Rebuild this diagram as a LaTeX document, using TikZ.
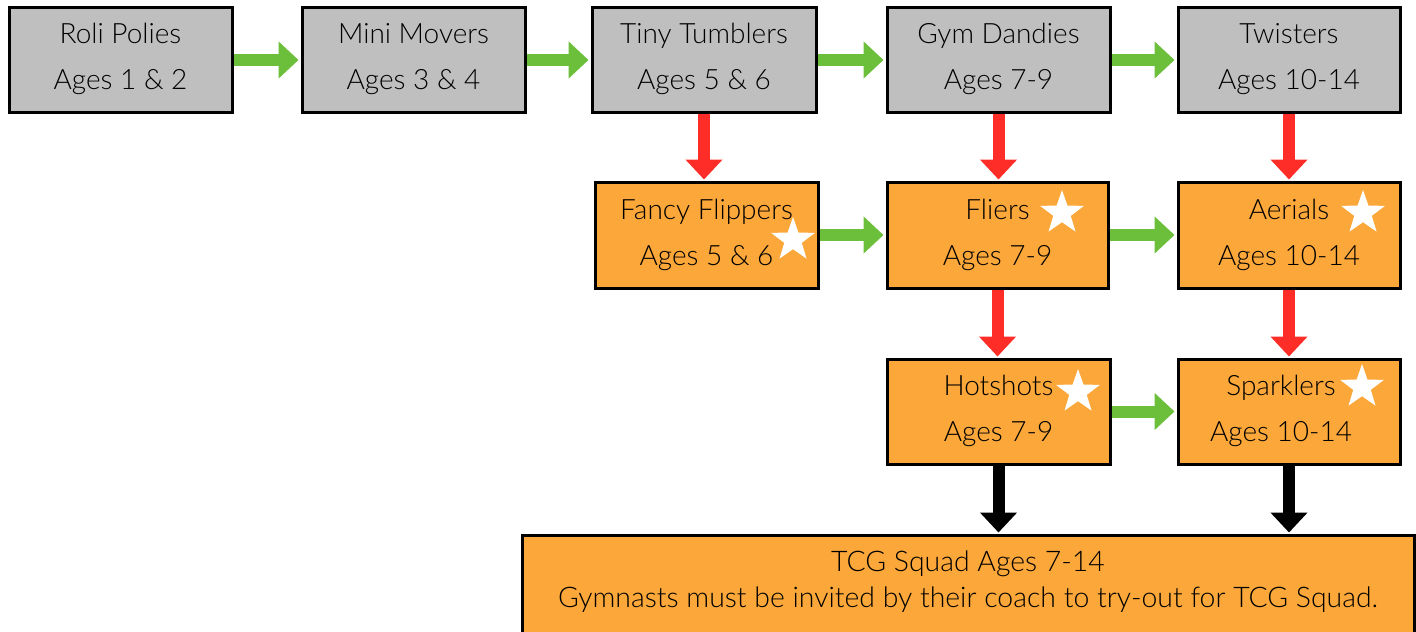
\documentclass[tikz,border=0pt]{standalone}
\usepackage{fontspec}
\setmainfont{Lato}[UprightFont={* Light}]
\usetikzlibrary{arrows.meta,fit,shapes.geometric}
\definecolor{boxgray}{HTML}{BFBFBF}
\definecolor{boxorange}{HTML}{FBA73A}
\definecolor{arrgreen}{HTML}{6CBF3A}
\definecolor{arrred}{HTML}{FF2D28}
\begin{document}
\begin{tikzpicture}[x=0.5pt,y=-0.5pt,
  box/.style={draw=black, line width=1.5pt, inner sep=0pt},
  gbox/.style={box, fill=boxgray},
  obox/.style={box, fill=boxorange},
  txt/.style={align=center, inner sep=0pt, font=\fontsize{14}{23}\selectfont},
  garrow/.style={draw=arrgreen, line width=6pt, shorten >=1pt,
    -{Triangle[width=18pt,length=10pt]}},
  rarrow/.style={draw=arrred, line width=6pt, shorten >=0.5pt,
    -{Triangle[width=18pt,length=10pt]}},
  karrow/.style={draw=black, line width=6pt, shorten >=0.5pt,
    -{Triangle[width=18pt,length=10pt]}},
  starmark/.style={star, star points=5, star point ratio=2.5, fill=white,
    draw=none, inner sep=0pt, minimum size=23pt},
  plain/.style={align=center, inner sep=0pt, font=\fontsize{14.2}{18}\selectfont}
]
\useasboundingbox (0,0) rectangle (1416,631);

% row 1
\node (rp) [gbox, fit={(9,8) (232,112)}] {};
\node (mm) [gbox, fit={(302,8) (525,112)}] {};
\node (tt) [gbox, fit={(592,8) (816,112)}] {};
\node (gd) [gbox, fit={(887,8) (1110,112)}] {};
\node (tw) [gbox, fit={(1178,8) (1400,112)}] {};
\node (rpt) [txt] at ([yshift=0.5pt]rp.center) {Roli Polies\\Ages 1 \& 2};
\node (mmt) [txt] at ([yshift=0.5pt]mm.center) {Mini Movers\\Ages 3 \& 4};
\node (ttt) [txt] at ([yshift=0.5pt]tt.center) {Tiny Tumblers\\Ages 5 \& 6};
\node (gdt) [txt] at ([yshift=0.5pt]gd.center) {Gym Dandies\\Ages 7-9};
\node (twt) [txt] at ([yshift=0.5pt]tw.center) {Twisters\\Ages 10-14};

% row 2
\node (ff) [obox, fit={(595,182) (818,288)}] {};
\node (fl) [obox, fit={(887,182) (1108,288)}] {};
\node (ae) [obox, fit={(1178,182) (1400,288)}] {};
\node (fft) [txt] at (ff.center) {Fancy Flippers\\Ages 5 \& 6};
\node (flt) [txt] at (fl.center) {Fliers\\Ages 7-9};
\node (aet) [txt] at (ae.center) {Aerials\\Ages 10-14};

% row 3
\node (hs) [obox, fit={(887,359) (1110,464)}] {};
\node (sp) [obox, fit={(1178,359) (1400,464)}] {};
\node (hst) [txt] at ([yshift=0.5pt]hs.center) {Hotshots\\Ages 7-9};
\node (spt) [txt] at ([xshift=-4pt,yshift=0.5pt]sp.center) {Sparklers\\Ages 10-14};

% bottom
\node (tcg) [obox, fit={(522,535) (1414,700)}] {};
\node (tcgtext) [plain] at (968,582) {TCG Squad Ages 7-14\\Gymnasts must be invited by their coach to try-out for TCG Squad.};

% stars
\node (s1) [starmark] at (793,240) {};
\node (s2) [starmark] at (1062,213) {};
\node (s3) [starmark] at (1363,213) {};
\node (s4) [starmark] at (1078,392) {};
\node (s5) [starmark] at (1362,387) {};

% green arrows
\draw[garrow] (rp.east) -- (mm.west);
\draw[garrow] (mm.east) -- (tt.west);
\draw[garrow] (tt.east) -- (gd.west);
\draw[garrow] (gd.east) -- (tw.west);
\draw[garrow] (ff.east) -- (ff.east -| fl.west);
\draw[garrow] (fl.east) -- (fl.east -| ae.west);
\draw[garrow] (hs.east) -- (sp.west);

% red arrows
\draw[rarrow] (tt.south) -- (tt.south |- ff.north);
\draw[rarrow] (gd.south) -- (gd.south |- fl.north);
\draw[rarrow] (tw.south) -- (tw.south |- ae.north);
\draw[rarrow] (fl.south) -- (fl.south |- hs.north);
\draw[rarrow] (ae.south) -- (ae.south |- sp.north);

% black arrows
\draw[karrow] (hs.south) -- (hs.south |- tcg.north);
\draw[karrow] (sp.south) -- (sp.south |- tcg.north);
\end{tikzpicture}
\end{document}
